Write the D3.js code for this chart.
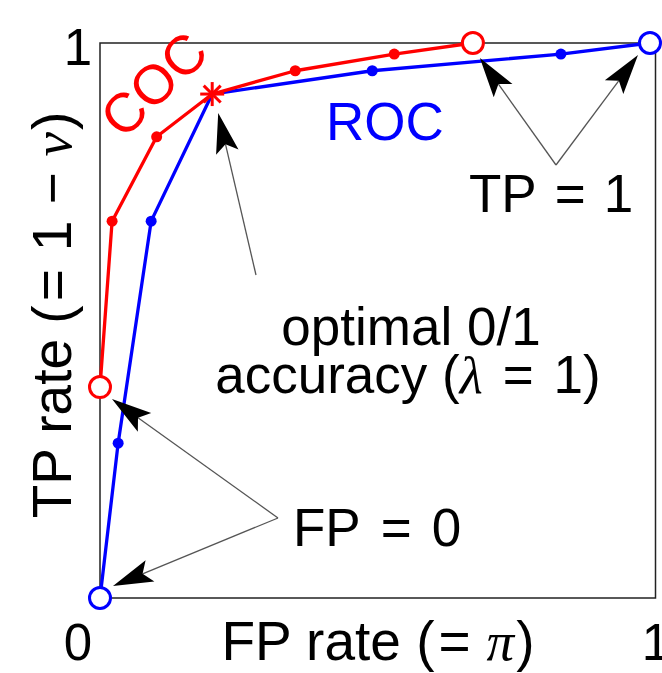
<!DOCTYPE html>
<html>
<head>
<meta charset="utf-8">
<script src="https://cdn.jsdelivr.net/npm/d3@7"></script>
<style>
  html, body { margin: 0; padding: 0; background: #fff; }
  text { font-family: "Liberation Sans", Arial, sans-serif; }
  .greek { font-family: "Liberation Serif", "DejaVu Serif", serif; font-style: italic; }
</style>
</head>
<body>
<svg id="chart" width="662" height="673"></svg>
<script>
// ROC curve (blue), FP rate / TP rate
var rocFP = [0, 0.033, 0.093, 0.204, 0.495, 0.838, 1.0];
var rocTP = [0, 0.279, 0.679, 0.908, 0.950, 0.980, 1.0];

// COC curve (red)
var cocFP = [0, 0.022, 0.103, 0.204, 0.355, 0.535, 0.678];
var cocTP = [0.38, 0.679, 0.831, 0.908, 0.950, 0.980, 1.0];

// index of the optimal 0/1 accuracy point (shared by both curves)
var optimalIdx = 3;

var tickLabels = ["0", "1"];

var svg = d3.select("#chart");

// plot area (note: "top" is taken by window.top)
var pLeft = 100, pRight = 650, pTop = 43, pBottom = 598;

var x = d3.scaleLinear().domain([0, 1]).range([pLeft, pRight]);
var y = d3.scaleLinear().domain([0, 1]).range([pBottom, pTop]);

function pts(fx, ty) {
  return fx.map(function (v, i) { return [v, ty[i]]; });
}
var roc = pts(rocFP, rocTP);
var coc = pts(cocFP, cocTP);

// frame
svg.append("rect")
  .attr("x", pLeft)
  .attr("y", pTop)
  .attr("width", x(1.01) - pLeft)
  .attr("height", pBottom - pTop)
  .style("fill", "none")
  .style("stroke", "#222")
  .style("stroke-width", 1.5);

// tick labels (only 0 and 1)
svg.append("text").attr("x", 78).attr("y", 660).attr("text-anchor", "middle")
  .style("font-size", "51px").text(tickLabels[0]);
svg.append("text").attr("x", x(1) + 6).attr("y", 660).attr("text-anchor", "middle")
  .style("font-size", "51px").text(tickLabels[1]);
svg.append("text").attr("x", 78).attr("y", y(1) + 22).attr("text-anchor", "middle")
  .style("font-size", "51px").text(tickLabels[1]);

// axis titles (wider gaps round = and − like LaTeX)
var xt = svg.append("text")
  .attr("x", 378).attr("y", 660)
  .attr("text-anchor", "middle")
  .style("font-size", "55px");
xt.append("tspan").text("FP rate (");
xt.append("tspan").attr("dx", 4).text("=");
xt.append("tspan").attr("dx", 16).attr("class", "greek").text("π");
xt.append("tspan").attr("dx", 2).text(")");

var yt = svg.append("text")
  .attr("transform", "translate(71,315) rotate(-90)")
  .attr("text-anchor", "middle")
  .style("font-size", "55px");
yt.append("tspan").text("TP rate (");
yt.append("tspan").attr("dx", 4).text("=");
yt.append("tspan").attr("dx", 18).text("1");
yt.append("tspan").attr("dx", 16).text("−");
yt.append("tspan").attr("dx", 16).attr("class", "greek").text("ν");
yt.append("tspan").attr("dx", 2).text(")");

// curves
var line = d3.line()
  .x(function (d) { return x(d[0]); })
  .y(function (d) { return y(d[1]); });

function drawCurve(data, color) {
  svg.append("path")
    .datum(data)
    .attr("d", line)
    .style("fill", "none")
    .style("stroke", color)
    .style("stroke-width", 3.3)
    .style("stroke-linejoin", "round");

  // inner dots
  svg.selectAll(null)
    .data(data.filter(function (d, i) { return i > 0 && i < data.length - 1 && i != optimalIdx; }))
    .enter().append("circle")
    .attr("cx", function (d) { return x(d[0]); })
    .attr("cy", function (d) { return y(d[1]); })
    .attr("r", 5.5)
    .style("fill", color);

  // open end points
  svg.selectAll(null)
    .data([data[0], data[data.length - 1]])
    .enter().append("circle")
    .attr("cx", function (d) { return x(d[0]); })
    .attr("cy", function (d) { return y(d[1]); })
    .attr("r", 10.5)
    .style("fill", "#fff")
    .style("stroke", color)
    .style("stroke-width", 3);
}

drawCurve(roc, "#0000ff");
drawCurve(coc, "#ff0000");

// star marker at optimal point
var star = coc[optimalIdx];
var sg = svg.append("g")
  .attr("transform", "translate(" + x(star[0]) + "," + y(star[1]) + ")");
[0, 45, 90, 135].forEach(function (a) {
  var r = 12, rad = a * Math.PI / 180;
  sg.append("line")
    .attr("x1", -r * Math.cos(rad)).attr("y1", -r * Math.sin(rad))
    .attr("x2", r * Math.cos(rad)).attr("y2", r * Math.sin(rad))
    .style("stroke", "#ff0000")
    .style("stroke-width", 3);
});

// curve labels
svg.append("text")
  .attr("transform", "translate(167,98) rotate(-44)")
  .attr("text-anchor", "middle")
  .style("font-size", "55px")
  .style("fill", "#ff0000")
  .text("COC");

svg.append("text")
  .attr("x", 326).attr("y", 140)
  .style("font-size", "53px")
  .style("fill", "#0000ff")
  .text("ROC");

// annotations
function arrow(from, target, off) {
  var tx = x(target[0]) + off[0], ty = y(target[1]) + off[1];
  var ang = Math.atan2(ty - from[1], tx - from[0]);
  var L = 40, W = 23, N = 0.8;
  svg.append("line")
    .attr("x1", from[0]).attr("y1", from[1])
    .attr("x2", tx - L * N * Math.cos(ang))
    .attr("y2", ty - L * N * Math.sin(ang))
    .style("stroke", "#555")
    .style("stroke-width", 1.3);
  svg.append("path")
    .attr("d", "M0,0 L" + (-L) + "," + (-W / 2) + " L" + (-L * N) + ",0 L" + (-L) + "," + (W / 2) + "Z")
    .attr("transform", "translate(" + tx + "," + ty + ") rotate(" + (ang * 180 / Math.PI) + ")")
    .style("fill", "#000");
}

arrow([256, 275], star, [6, 19]);
arrow([556, 165], coc[coc.length - 1], [7, 15]);
arrow([556, 165], roc[roc.length - 1], [-12, 12]);
arrow([278, 518], coc[0], [12, 12]);
arrow([278, 518], roc[0], [13, -12]);

var tp = svg.append("text")
  .attr("x", 469).attr("y", 212)
  .style("font-size", "53px");
tp.append("tspan").text("TP");
tp.append("tspan").attr("dx", 18).text("=");
tp.append("tspan").attr("dx", 18).text("1");

svg.append("text")
  .attr("x", 411).attr("y", 345)
  .attr("text-anchor", "middle")
  .style("font-size", "53px")
  .text("optimal 0/1");

var acc = svg.append("text")
  .attr("x", 408).attr("y", 393)
  .attr("text-anchor", "middle")
  .style("font-size", "53px");
acc.append("tspan").text("accuracy (");
acc.append("tspan").attr("class", "greek").text("λ");
acc.append("tspan").attr("dx", 20).text("=");
acc.append("tspan").attr("dx", 20).text("1)");

var fp = svg.append("text")
  .attr("x", 293).attr("y", 546)
  .style("font-size", "53px");
fp.append("tspan").text("FP");
fp.append("tspan").attr("dx", 20).text("=");
fp.append("tspan").attr("dx", 20).text("0");
</script>
</body>
</html>
